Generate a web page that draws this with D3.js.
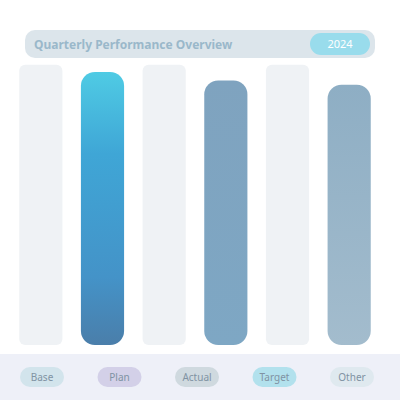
<!DOCTYPE html>
<html><head><meta charset="utf-8">
<script src="https://cdn.jsdelivr.net/npm/d3@7/dist/d3.min.js"></script>
<style>html,body{margin:0;padding:0;background:#fff;}svg{display:block;font-family:"Noto Sans",sans-serif;}</style>
</head><body><div id="chart"></div>
<script>
const categories = ["A1","A2","B1","B2","C1","C2"];
const values = [99, 96.5, 99, 93.5, 99, 92];
const highlight = [false, true, false, true, false, true];
const legendLabels = ["Base","Plan","Actual","Target","Other"];
const titleText = "Quarterly Performance Overview";
const badgeText = "2024";

const W = 400, H = 400;
const svg = d3.select("#chart").append("svg").attr("width", W).attr("height", H);
const defs = svg.append("defs");
const g1 = defs.append("linearGradient").attr("id","gMain").attr("x1",0).attr("x2",0).attr("y1",0).attr("y2",1);
g1.append("stop").attr("offset","0%").attr("stop-color","#4fcbe4");
g1.append("stop").attr("offset","30%").attr("stop-color","#3fa6d6");
g1.append("stop").attr("offset","75%").attr("stop-color","#4493c8");
g1.append("stop").attr("offset","100%").attr("stop-color","#4a7eaa");
const g2 = defs.append("linearGradient").attr("id","gSec").attr("x1",0).attr("x2",0).attr("y1",0).attr("y2",1);
g2.append("stop").attr("offset","0%").attr("stop-color","#7fa3bf");
g2.append("stop").attr("offset","100%").attr("stop-color","#7ea7c4");
const g3 = defs.append("linearGradient").attr("id","gThird").attr("x1",0).attr("x2",0).attr("y1",0).attr("y2",1);
g3.append("stop").attr("offset","0%").attr("stop-color","#8eaec4");
g3.append("stop").attr("offset","100%").attr("stop-color","#a3bccd");
const fills = ["url(#gMain)","url(#gSec)","url(#gThird)"];

// title bar
svg.append("rect").attr("x",25).attr("y",30).attr("width",350).attr("height",28).attr("rx",10).attr("fill","#dce5eb");
svg.append("text").attr("x",34).attr("y",49).attr("font-size",12).attr("font-weight",700).attr("fill","#9ab8ca").text(titleText);
svg.append("rect").attr("x",310).attr("y",33).attr("width",60).attr("height",22).attr("rx",11).attr("fill","#99dcec");
svg.append("text").attr("x",340).attr("y",48).attr("text-anchor","middle").attr("font-size",11).attr("fill","#ffffff").text(badgeText);

const x = d3.scaleBand().domain(categories).range([10, 380]).paddingInner(0.3).paddingOuter(0.15);
const y = d3.scaleLinear().domain([0, 100]).range([345, 62]);

svg.append("g").selectAll("rect").data(categories).join("rect")
  .attr("x", d => x(d))
  .attr("y", (d,i) => y(values[i]))
  .attr("width", x.bandwidth())
  .attr("height", (d,i) => y(0) - y(values[i]))
  .attr("rx", (d,i) => highlight[i] ? 14 : 6)
  .attr("fill", (d,i) => highlight[i] ? fills[(i-1)/2] : "#eff2f5");

// bottom legend strip
svg.append("rect").attr("x",0).attr("y",354).attr("width",W).attr("height",46).attr("fill","#eef0f8");
const legendColors = ["#d2e4ec","#d3d0e8","#cfd9df","#b2e1ed","#dfe9ef"];
const lx = d3.scalePoint().domain(legendLabels).range([42, 352]);
const lg = svg.append("g").selectAll("g").data(legendLabels).join("g")
  .attr("transform", d => `translate(${lx(d)},377)`);
lg.append("rect").attr("x",-22).attr("y",-10).attr("width",44).attr("height",20).attr("rx",10)
  .attr("fill",(d,i)=>legendColors[i]);
lg.append("text").attr("text-anchor","middle").attr("y",4).attr("font-size",10).attr("fill","#8093a3").text(d=>d);
</script></body></html>
